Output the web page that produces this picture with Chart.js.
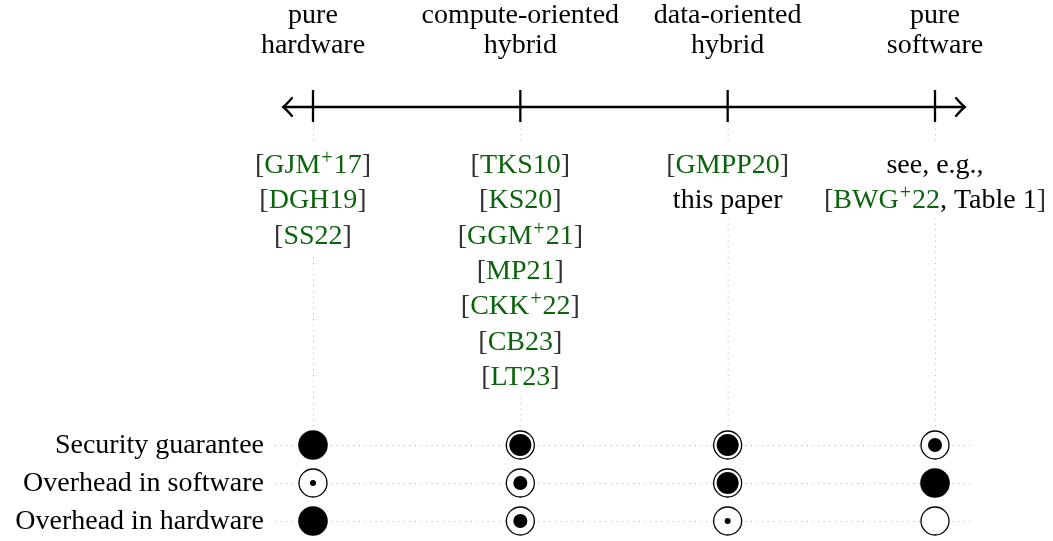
<!DOCTYPE html>
<html><head><meta charset="utf-8">
<script src="https://cdn.jsdelivr.net/npm/chart.js@4.4.1/dist/chart.umd.min.js"></script>
<style>html,body{margin:0;padding:0;background:#fff;overflow:hidden}canvas{display:block}</style>
</head><body><canvas id="c" width="1053" height="541"></canvas>
<script>
// ---- data ----
const categories = [['pure','hardware'],['compute-oriented','hybrid'],['data-oriented','hybrid'],['pure','software']];
const criteria = ['Security guarantee','Overhead in software','Overhead in hardware'];
// levels: 0 = empty circle ... 4 = fully filled
const securityGuarantee = [4,3,3,2];
const overheadSoftware  = [1,2,3,4];
const overheadHardware  = [4,2,1,0];
const references = [
  ['[GJM^+17]','[DGH19]','[SS22]'],
  ['[TKS10]','[KS20]','[GGM^+21]','[MP21]','[CKK^+22]','[CB23]','[LT23]'],
  ['[GMPP20]','this paper'],
  ['see, e.g.,','[BWG^+22, Table 1]']
];

// ---- style ----
const FONT_SIZE = 28;
const FONT = FONT_SIZE + 'px "Liberation Serif", "DejaVu Serif", serif';
const SUP_FONT = Math.round(FONT_SIZE*0.7) + 'px "Liberation Serif", "DejaVu Serif", serif';
const GREEN = '#0b630b';
const BRACKET = '#333';
const DOT = '#b4b4b4';
const RADII = [0, 3, 7, 11, 14.8];
const AXIS_Y = 107;

const levelRows = [securityGuarantee, overheadSoftware, overheadHardware];
const points = [];
levelRows.forEach((row, r) => row.forEach((lv, i) => points.push({x: i, y: r, level: lv})));

function parseLine(s){
  const segs = [];
  let buf = '', color = '#000', inKey = false;
  const flush = () => { if (buf) { segs.push({t: buf, c: color}); buf = ''; } };
  for (let i = 0; i < s.length; i++){
    const ch = s[i];
    if (ch === '['){ flush(); segs.push({t:'[', c:BRACKET}); inKey = true; color = GREEN; }
    else if (ch === ']'){ flush(); color = '#000'; segs.push({t:']', c:BRACKET}); inKey = false; }
    else if (ch === ',' && inKey){ flush(); inKey = false; color = '#000'; buf = ','; }
    else if (ch === '^'){ flush(); segs.push({t: s[i+1], c: color, sup: true}); i++; }
    else buf += ch;
  }
  flush();
  return segs;
}
function measureSegs(ctx, segs){
  let w = 0;
  segs.forEach(sg => { ctx.font = sg.sup ? SUP_FONT : FONT; sg.w = ctx.measureText(sg.t).width + (sg.sup ? 2 : 0); w += sg.w; });
  return w;
}
function drawSegs(ctx, segs, cx, y){
  const w = measureSegs(ctx, segs);
  let x = cx - w/2;
  ctx.textAlign = 'left'; ctx.textBaseline = 'alphabetic';
  segs.forEach(sg => {
    ctx.font = sg.sup ? SUP_FONT : FONT;
    ctx.fillStyle = sg.c;
    ctx.fillText(sg.t, sg.sup ? x + 1 : x, sg.sup ? y - 9 : y);
    x += sg.w;
  });
  return w;
}

const decor = {
  id: 'decor',
  beforeDatasetsDraw(chart){
    const ctx = chart.ctx, xs = chart.scales.x, ys = chart.scales.y;
    const px = v => xs.getPixelForValue(v), py = v => ys.getPixelForValue(v);
    ctx.save();
    // dotted guide lines
    ctx.setLineDash([1, 4.6]); ctx.lineWidth = 1; ctx.strokeStyle = DOT;
    categories.forEach((c, i) => { ctx.beginPath(); ctx.moveTo(px(i)+0.5, AXIS_Y+16); ctx.lineTo(px(i)+0.5, py(0)); ctx.stroke(); });
    criteria.forEach((c, r) => { ctx.beginPath(); ctx.moveTo(px(0)-38, py(r)+0.5); ctx.lineTo(px(categories.length-1)+40, py(r)+0.5); ctx.stroke(); });
    ctx.setLineDash([]);
    // axis line
    const left = px(0)-30, right = px(categories.length-1)+30;
    ctx.strokeStyle = '#000'; ctx.lineWidth = 2.3; ctx.lineCap = 'butt';
    ctx.beginPath(); ctx.moveTo(left+1, AXIS_Y); ctx.lineTo(right-1, AXIS_Y); ctx.stroke();
    categories.forEach((c, i) => { ctx.beginPath(); ctx.moveTo(px(i), AXIS_Y-17); ctx.lineTo(px(i), AXIS_Y+15); ctx.stroke(); });
    ctx.lineCap = 'round'; ctx.lineJoin = 'round';
    ctx.beginPath(); ctx.moveTo(left+9, AXIS_Y-9); ctx.quadraticCurveTo(left+3, AXIS_Y-2, left, AXIS_Y); ctx.quadraticCurveTo(left+3, AXIS_Y+2, left+9, AXIS_Y+9); ctx.stroke();
    ctx.beginPath(); ctx.moveTo(right-9, AXIS_Y-9); ctx.quadraticCurveTo(right-3, AXIS_Y-2, right, AXIS_Y); ctx.quadraticCurveTo(right-3, AXIS_Y+2, right-9, AXIS_Y+9); ctx.stroke();
    // top labels
    ctx.fillStyle = '#000'; ctx.font = FONT; ctx.textAlign = 'center'; ctx.textBaseline = 'alphabetic';
    categories.forEach((lines, i) => lines.forEach((t, k) => ctx.fillText(t, px(i), 23 + k*30)));
    // references
    references.forEach((lines, i) => {
      const segsList = lines.map(parseLine);
      const wmax = Math.max(...segsList.map(s => measureSegs(ctx, s)));
      const y0 = 173, dy = 35.3;
      ctx.fillStyle = '#fff';
      ctx.fillRect(px(i) - wmax/2 - 5, y0 - 28, wmax + 10, (lines.length-1)*dy + 38);
      segsList.forEach((s, k) => drawSegs(ctx, s, px(i), y0 + k*dy));
    });
    // row labels
    ctx.font = FONT; ctx.textAlign = 'right'; ctx.textBaseline = 'alphabetic';
    criteria.forEach((t, r) => {
      const w = ctx.measureText(t).width;
      ctx.fillStyle = '#fff'; ctx.fillRect(264 - w - 4, py(r) - 18, w + 10, 32);
      ctx.fillStyle = '#000'; ctx.fillText(t, 264, py(r) + 8);
    });
    ctx.restore();
  }
};

const X0 = 313, X3 = 935, W = 1053, H = 541;
const xUnit = (X3 - X0) / (categories.length - 1);
const Y0 = 445, yUnit = 38;

new Chart(document.getElementById('c'), {
  type: 'scatter',
  data: { datasets: [
    { label: 'fill', order: 0, data: points,
      pointRadius: ctx => RADII[ctx.raw.level], pointHoverRadius: ctx => RADII[ctx.raw.level],
      pointBackgroundColor: '#000', pointBorderWidth: 0, pointHoverBorderWidth: 0 },
    { label: 'ring', order: 1, data: points.filter(p => p.level < 4),
      pointRadius: 14, pointHoverRadius: 14, pointBackgroundColor: '#fff',
      pointBorderColor: '#000', pointBorderWidth: 1.3, pointHoverBorderWidth: 1.3 }
  ]},
  options: {
    responsive: false, animation: false, devicePixelRatio: 1, events: [],
    layout: { padding: 0, autoPadding: false },
    plugins: { legend: { display: false }, tooltip: { enabled: false } },
    scales: {
      x: { type: 'linear', display: false, min: -X0/xUnit, max: (W - X0)/xUnit },
      y: { type: 'linear', display: false, reverse: true, min: -Y0/yUnit, max: (H - Y0)/yUnit }
    }
  },
  plugins: [decor]
});
</script>
</body></html>
